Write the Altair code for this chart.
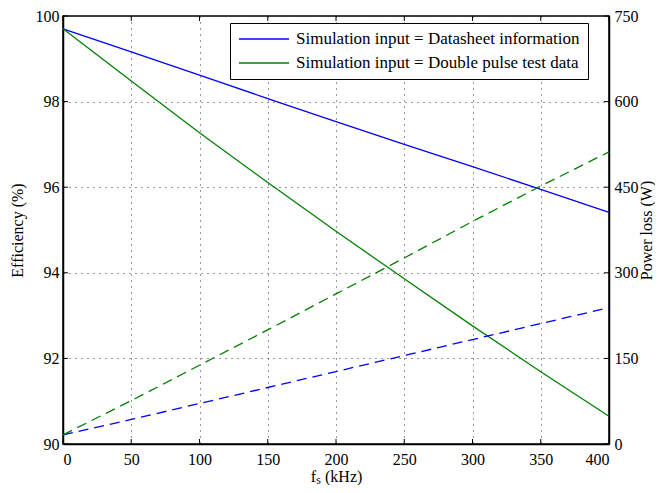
import altair as alt
import pandas as pd

FONT = "Liberation Serif"

freq = [0, 50, 100, 150, 200, 250, 300, 350, 400]
eff_datasheet = [99.70, 99.16, 98.62, 98.07, 97.53, 97.00, 96.48, 95.95, 95.41]
eff_dpt = [99.70, 98.48, 97.27, 96.11, 94.97, 93.86, 92.76, 91.69, 90.65]
loss_datasheet = [16, 43, 71, 99, 127, 155, 183, 211, 239]
loss_dpt = [16, 76, 138, 200, 263, 326, 390, 452, 512]
series = ["Simulation input = Datasheet information",
          "Simulation input = Double pulse test data"]
colors = ["#0000ff", "#008000"]
x_ticks = [0, 50, 100, 150, 200, 250, 300, 350, 400]
eff_ticks = [90, 92, 94, 96, 98, 100]
loss_ticks = [0, 150, 300, 450, 600, 750]

W, H = 546, 428

eff_df = pd.DataFrame({
    "f": freq * 2,
    "eff": eff_datasheet + eff_dpt,
    "series": [series[0]] * len(freq) + [series[1]] * len(freq),
})
loss_df = pd.DataFrame({
    "f": freq * 2,
    "loss": loss_datasheet + loss_dpt,
    "series": [series[0]] * len(freq) + [series[1]] * len(freq),
})
xt_df = pd.DataFrame({"f": x_ticks})
et_df = pd.DataFrame({"eff": eff_ticks})
lt_df = pd.DataFrame({"loss": loss_ticks})

common_axis = dict(labelFont=FONT, labelFontSize=16, labelColor="black",
                   titleFont=FONT, titleFontSize=16, titleFontWeight="normal",
                   titleColor="black", domainColor="black", domainWidth=1.5,
                   ticks=False, format="d")

x_enc = alt.X("f:Q",
              scale=alt.Scale(domain=[0, 400], nice=False, zero=False),
              axis=alt.Axis(values=x_ticks, title="fₛ (kHz)", grid=True,
                            gridDash=[1, 5], gridColor="#333333", gridWidth=1,
                            labelPadding=7, titlePadding=1, **common_axis))
y_eff = alt.Y("eff:Q",
              scale=alt.Scale(domain=[90, 100], nice=False, zero=False),
              axis=alt.Axis(values=eff_ticks, title="Efficiency (%)", orient="left",
                            grid=True, gridDash=[1, 5], gridColor="#333333",
                            gridWidth=1, labelPadding=4, titlePadding=10,
                            **common_axis))
y_loss = alt.Y("loss:Q",
               scale=alt.Scale(domain=[0, 750], nice=False, zero=False),
               axis=alt.Axis(values=loss_ticks, title="Power loss (W)", orient="right",
                             grid=False, labelPadding=5, titlePadding=0,
                             titleAngle=270, titleBaseline="top", **common_axis))

color_leg = alt.Color("series:N",
                      scale=alt.Scale(domain=series, range=colors),
                      legend=alt.Legend(title=None, orient="none", legendX=167, legendY=7,
                                        symbolType="stroke", symbolSize=2500,
                                        symbolStrokeWidth=1.3, labelFont=FONT,
                                        labelFontSize=17, labelColor="black",
                                        labelLimit=0, clipHeight=16,
                                        strokeColor="black", fillColor="white",
                                        padding=8, rowPadding=7, labelOffset=6))
color_noleg = alt.Color("series:N",
                        scale=alt.Scale(domain=series, range=colors),
                        legend=None)

eff_lines = alt.Chart(eff_df).mark_line(strokeWidth=1.3).encode(
    x=x_enc, y=y_eff, color=color_leg)

bottom_ticks = alt.Chart(xt_df).mark_rule(color="black", strokeWidth=1).encode(
    x=x_enc, y=alt.value(H), y2=alt.value(H - 5))
top_ticks = alt.Chart(xt_df).mark_rule(color="black", strokeWidth=1).encode(
    x=x_enc, y=alt.value(0), y2=alt.value(5))
left_ticks = alt.Chart(et_df).mark_rule(color="black", strokeWidth=1).encode(
    y=y_eff, x=alt.value(0), x2=alt.value(5))

left = alt.layer(eff_lines, bottom_ticks, top_ticks, left_ticks)

loss_lines = alt.Chart(loss_df).mark_line(strokeWidth=1.3, strokeDash=[10, 6]).encode(
    x=x_enc, y=y_loss, color=color_noleg)
right_ticks = alt.Chart(lt_df).mark_rule(color="black", strokeWidth=1).encode(
    y=y_loss, x=alt.value(W - 5), x2=alt.value(W))

right = alt.layer(loss_lines, right_ticks)

chart = alt.layer(left, right).resolve_scale(y="independent").resolve_legend(
    color="independent"
).properties(
    width=W, height=H,
    padding={"left": 55, "top": 8, "right": 46, "bottom": 41},
    autosize=alt.AutoSizeParams(type="none"),
).configure(
    font=FONT
).configure_view(
    stroke="black", strokeWidth=1.5
)

chart.save("out.html", embed_options={"renderer": "svg", "actions": False})
